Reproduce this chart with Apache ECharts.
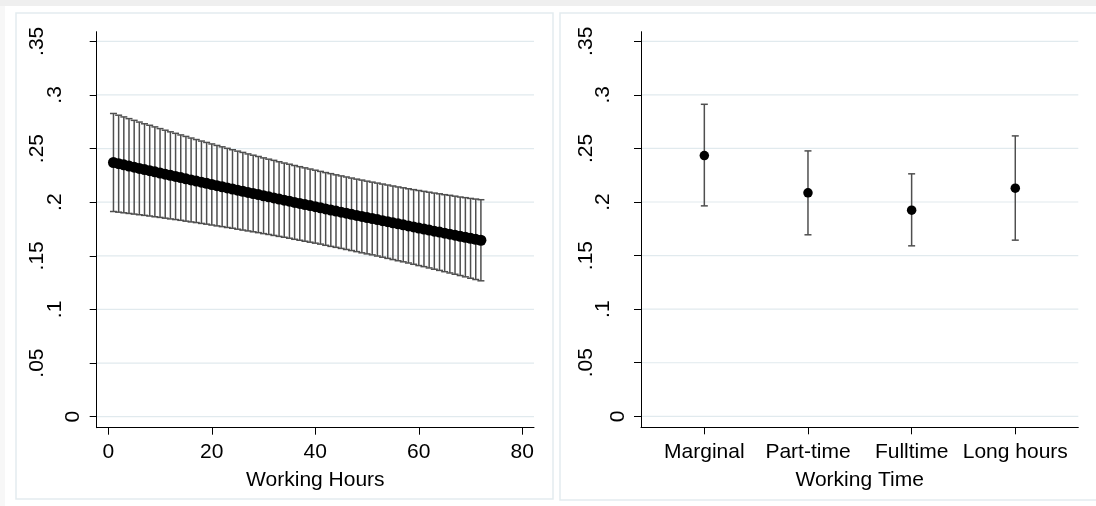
<!DOCTYPE html>
<html><head><meta charset="utf-8">
<script src="https://cdn.jsdelivr.net/npm/echarts@6/dist/echarts.min.js"></script>
<style>html,body{margin:0;padding:0;background:#fff}#c{width:1096px;height:506px}</style>
</head><body><div id="c"></div>
<script>
// ---------- data ----------
const hours = [1,2,3,4,5,6,7,8,9,10,11,12,13,14,15,16,17,18,19,20,21,22,23,24,25,26,27,28,29,30,31,32,33,34,35,36,
  37,38,39,40,41,42,43,44,45,46,47,48,49,50,51,52,53,54,55,56,57,58,59,60,61,62,63,64,65,66,67,68,69,70,71,72];
const hoursMean = [.2370,.2359,.2348,.2337,.2326,.2315,.2304,.2294,.2283,.2272,.2261,.2250,.2240,.2229,.2218,.2207,.2197,.2186,
  .2176,.2165,.2154,.2144,.2133,.2123,.2112,.2102,.2091,.2081,.2071,.2060,.2050,.2040,.2029,.2019,.2009,.1998,
  .1988,.1978,.1968,.1958,.1948,.1937,.1927,.1917,.1907,.1897,.1887,.1877,.1867,.1857,.1848,.1838,.1828,.1818,
  .1808,.1798,.1789,.1779,.1769,.1759,.1750,.1740,.1730,.1721,.1711,.1702,.1692,.1682,.1673,.1663,.1654,.1645];
const hoursUpper = [.2827,.2811,.2795,.2779,.2763,.2747,.2731,.2717,.2702,.2686,.2671,.2656,.2642,.2627,.2613,.2598,.2584,.2570,
  .2557,.2543,.2529,.2516,.2502,.2489,.2476,.2464,.2450,.2438,.2426,.2413,.2401,.2390,.2377,.2365,.2354,.2342,
  .2331,.2320,.2309,.2298,.2287,.2276,.2266,.2255,.2245,.2235,.2225,.2215,.2206,.2196,.2187,.2178,.2169,.2160,
  .2151,.2142,.2134,.2125,.2117,.2109,.2101,.2093,.2085,.2078,.2070,.2064,.2056,.2048,.2042,.2035,.2029,.2023];
const hoursLower = [.1913,.1907,.1901,.1895,.1889,.1883,.1877,.1871,.1864,.1858,.1851,.1844,.1838,.1831,.1823,.1816,.1810,.1802,
  .1795,.1787,.1779,.1772,.1764,.1757,.1748,.1740,.1732,.1724,.1716,.1707,.1699,.1690,.1681,.1673,.1664,.1654,
  .1645,.1636,.1627,.1618,.1609,.1598,.1588,.1579,.1569,.1559,.1549,.1539,.1528,.1518,.1509,.1498,.1487,.1476,
  .1465,.1454,.1444,.1433,.1421,.1409,.1399,.1387,.1375,.1364,.1352,.1340,.1328,.1316,.1304,.1291,.1279,.1267];

const timeCategories = ['Marginal','Part-time','Fulltime','Long hours'];
const timeMean  = [0.2433, 0.2086, 0.1924, 0.2129];
const timeLower = [0.1964, 0.1694, 0.1591, 0.1644];
const timeUpper = [0.2912, 0.2477, 0.2263, 0.2617];

const yTicks = [0, 0.05, 0.1, 0.15, 0.2, 0.25, 0.3, 0.35];
const yTickLabels = ['0', '.05', '.1', '.15', '.2', '.25', '.3', '.35'];
const hourTicks = [0, 20, 40, 60, 80];
const xTitleHours = 'Working Hours';
const xTitleTime = 'Working Time';

// ---------- chart ----------
const FONT = "'Liberation Sans', Arial, Helvetica, sans-serif";
const GRID_LINE = '#e1eaee';
const BAR = '#4f4f4f';
const yLong = yTicks.filter((t, i) => yTickLabels[i].length === 3);
const yMid = yTicks.filter((t, i) => yTickLabels[i].length === 2);
const yZero = yTicks.filter((t, i) => yTickLabels[i].length === 1);
const fmtY = v => yTickLabels[yTicks.findIndex(t => Math.abs(t - v) < 1e-9)];

function yAx(gridIndex, values, margin, main) {
  return {
    type: 'value', gridIndex, position: 'left', min: -0.01026, max: 0.35895,
    axisLine: { show: main, onZero: false, lineStyle: { color: '#000', width: 1 } },
    axisTick: { show: main, customValues: yTicks, length: 7, lineStyle: { color: '#000', width: 1 } },
    axisLabel: { customValues: values, rotate: 90, margin, fontSize: 21, color: '#000', fontFamily: FONT, formatter: fmtY },
    splitLine: { show: false }
  };
}

function errRender(params, api) {
  const x = api.value(0), lo = api.value(1), hi = api.value(2);
  const pLo = api.coord([x, lo]), pHi = api.coord([x, hi]);
  const hw = 3.5;
  const style = { stroke: BAR, lineWidth: 1.5, fill: null };
  return {
    type: 'group', children: [
      { type: 'line', shape: { x1: pLo[0], y1: pLo[1], x2: pHi[0], y2: pHi[1] }, style },
      { type: 'line', shape: { x1: pLo[0] - hw, y1: pLo[1], x2: pLo[0] + hw, y2: pLo[1] }, style },
      { type: 'line', shape: { x1: pHi[0] - hw, y1: pHi[1], x2: pHi[0] + hw, y2: pHi[1] }, style }
    ]
  };
}

function gridRender(params, api) {
  const cs = params.coordSys;
  const y = api.coord([api.value(0), api.value(1)])[1];
  return {
    type: 'line', shape: { x1: cs.x, y1: y, x2: cs.x + cs.width, y2: y },
    style: { stroke: GRID_LINE, lineWidth: 1.2, fill: null }
  };
}

function gridLines(xi, yi, xRef) {
  return {
    type: 'custom', xAxisIndex: xi, yAxisIndex: yi, z: 0, silent: true, renderItem: gridRender,
    encode: { x: 0, y: 1 }, clip: false,
    data: yTicks.map(v => [xRef, v])
  };
}

const timeX = timeCategories.map((c, i) => i + 1);

const option = {
  animation: false,
  backgroundColor: '#ffffff',
  textStyle: { fontFamily: FONT },
  graphic: [
    { type: 'rect', shape: { x: 0, y: 0, width: 1096, height: 6 }, style: { fill: '#efefef' }, silent: true, z: -10 },
    { type: 'rect', shape: { x: 0, y: 6, width: 5, height: 500 }, style: { fill: '#f7f7f7' }, silent: true, z: -10 },
    { type: 'rect', shape: { x: 16, y: 13, width: 537, height: 486 }, style: { fill: null, stroke: '#e3ecef', lineWidth: 1.5 }, silent: true, z: -10 },
    { type: 'rect', shape: { x: 560, y: 13, width: 560, height: 487 }, style: { fill: null, stroke: '#e3ecef', lineWidth: 1.5 }, silent: true, z: -10 }
  ],
  grid: [
    { left: 96.7, top: 31.7, width: 437.3, height: 396, outerBoundsMode: 'none', containLabel: false },
    { left: 641, top: 31.7, width: 437.3, height: 395.6, outerBoundsMode: 'none', containLabel: false }
  ],
  xAxis: [
    {
      type: 'value', gridIndex: 0, min: -2.24, max: 82.26,
      axisLine: { onZero: false, lineStyle: { color: '#000', width: 1 } },
      axisTick: { customValues: hourTicks, length: 7, lineStyle: { color: '#000' } },
      axisLabel: { customValues: hourTicks, margin: 14, fontSize: 21, color: '#000', fontFamily: FONT },
      splitLine: { show: false },
      name: xTitleHours, nameLocation: 'middle', nameGap: 42,
      nameTextStyle: { fontSize: 21, color: '#000', fontFamily: FONT }
    },
    {
      type: 'value', gridIndex: 1, min: 0.389, max: 4.608,
      axisLine: { onZero: false, lineStyle: { color: '#000', width: 1 } },
      axisTick: { customValues: timeX, length: 7, lineStyle: { color: '#000' } },
      axisLabel: { customValues: timeX, margin: 14, fontSize: 21, color: '#000', fontFamily: FONT,
        formatter: v => timeCategories[Math.round(v) - 1] },
      splitLine: { show: false },
      name: xTitleTime, nameLocation: 'middle', nameGap: 42,
      nameTextStyle: { fontSize: 21, color: '#000', fontFamily: FONT }
    }
  ],
  yAxis: [
    yAx(0, yLong, 49, true), yAx(0, yMid, 31, false), yAx(0, yZero, 13, false),
    yAx(1, yLong, 44, true), yAx(1, yMid, 27, false), yAx(1, yZero, 12, false)
  ],
  series: [
    gridLines(0, 0, 40),
    gridLines(1, 3, 2.5),
    {
      type: 'custom', xAxisIndex: 0, yAxisIndex: 0, z: 2, renderItem: errRender,
      encode: { x: 0, y: [1, 2] },
      data: hours.map((h, i) => [h, hoursLower[i], hoursUpper[i]])
    },
    {
      type: 'scatter', xAxisIndex: 0, yAxisIndex: 0, z: 3, symbol: 'circle', symbolSize: 11,
      itemStyle: { color: '#000', opacity: 1 },
      data: hours.map((h, i) => [h, hoursMean[i]])
    },
    {
      type: 'custom', xAxisIndex: 1, yAxisIndex: 3, z: 2, renderItem: errRender,
      encode: { x: 0, y: [1, 2] },
      data: timeX.map((x, i) => [x, timeLower[i], timeUpper[i]])
    },
    {
      type: 'scatter', xAxisIndex: 1, yAxisIndex: 3, z: 3, symbol: 'circle', symbolSize: 9.5,
      itemStyle: { color: '#000', opacity: 1 },
      data: timeX.map((x, i) => [x, timeMean[i]])
    }
  ]
};

const chart = echarts.init(document.getElementById('c'), null, { renderer: 'canvas' });
chart.setOption(option);
</script>
</body></html>
